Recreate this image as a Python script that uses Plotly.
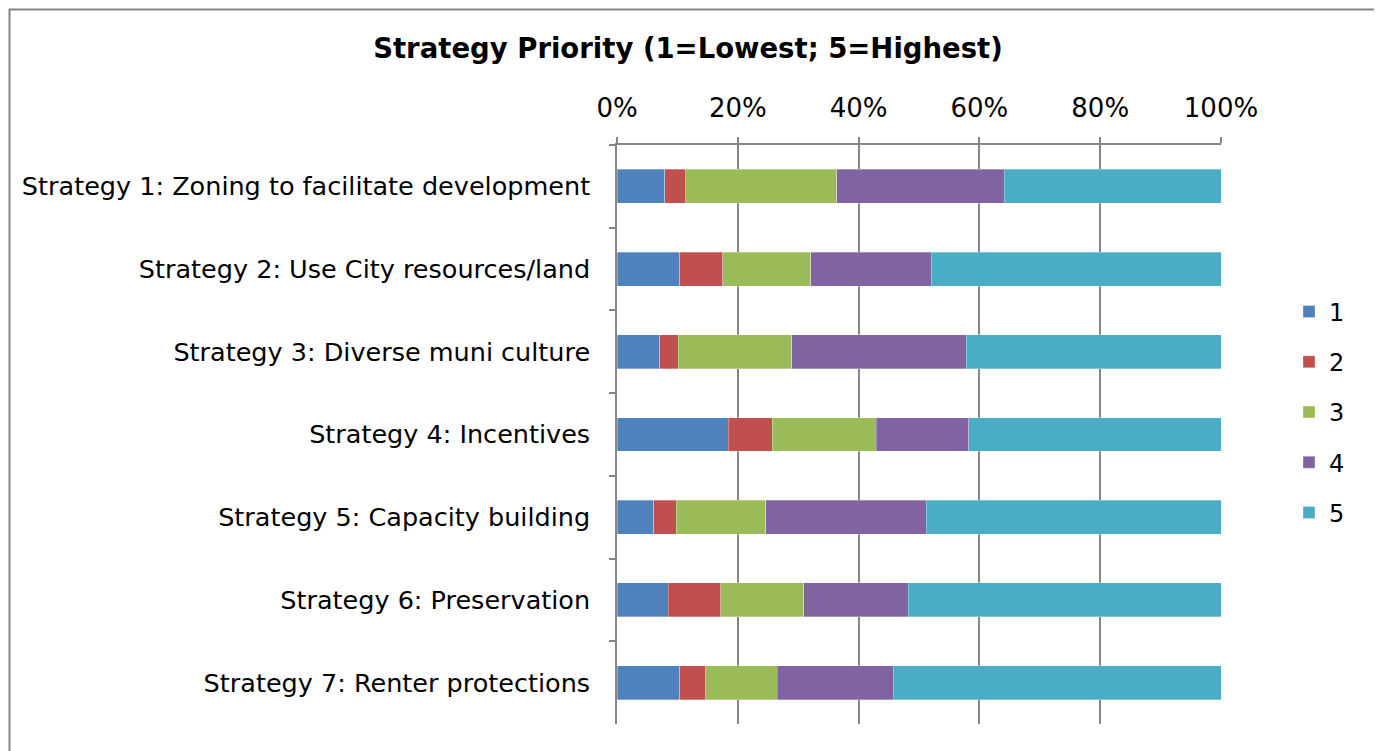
import plotly.graph_objects as go

categories = [
    "Strategy 1: Zoning to facilitate development",
    "Strategy 2: Use City resources/land",
    "Strategy 3: Diverse muni culture",
    "Strategy 4: Incentives",
    "Strategy 5: Capacity building",
    "Strategy 6: Preservation",
    "Strategy 7: Renter protections",
]
series_names = ["1", "2", "3", "4", "5"]
r1 = [7.9, 10.4, 7.1, 18.4, 6.1, 8.5, 10.4]
r2 = [3.5, 7.1, 3.0, 7.3, 3.7, 8.7, 4.3]
r3 = [25.0, 14.6, 18.8, 17.2, 14.8, 13.7, 11.8]
r4 = [27.7, 19.9, 28.9, 15.3, 26.6, 17.3, 19.2]
r5 = [35.9, 48.0, 42.2, 41.8, 48.8, 51.8, 54.3]
colors = ["#4F81BD", "#C0504D", "#9BBB59", "#8064A2", "#4BACC6"]
tick_vals = [0, 20, 40, 60, 80, 100]
tick_text = ["0%", "20%", "40%", "60%", "80%", "100%"]

FONT = "DejaVu Sans"
fig = go.Figure()
for name, vals, col in zip(series_names, [r1, r2, r3, r4, r5], colors):
    fig.add_trace(go.Bar(
        y=categories, x=vals, name=name, orientation="h",
        marker=dict(color=col, line=dict(color="rgba(255,255,255,0.6)", width=0.5)),
        legendgroup=name,
    ))

# page has an 8px body margin, so figure coords = screen coords - 8
OFF = 8
W, H = 1382, 751
L = 617 - OFF
T = 145 - OFF
R = W - (1221 - OFF)
B = H - (724 - OFF)
pw = W - L - R
ph = H - T - B
bottom_px = 724 - OFF

fig.update_layout(
    width=W, height=H,
    barmode="stack", bargap=0.59,
    plot_bgcolor="white", paper_bgcolor="white",
    margin=dict(l=L, r=R, t=T, b=B, autoexpand=False),
    font=dict(family=FONT, size=25.5, color="black"),
    title=dict(text="<b>Strategy Priority (1=Lowest; 5=Highest)</b>",
               x=(688 - OFF) / W, xref="container", xanchor="center",
               y=1 - (48 - OFF) / H, yref="container", yanchor="middle",
               font=dict(family=FONT, size=27.5, color="black")),
    xaxis=dict(side="top", range=[0, 100], tickvals=tick_vals, ticktext=tick_text,
               showgrid=True, gridcolor="#868686", gridwidth=1.5,
               showline=True, linecolor="#868686", linewidth=1.5,
               ticks="outside", ticklen=6, tickcolor="#868686", tickwidth=1.5,
               ticklabelstandoff=10,
               zeroline=False, tickfont=dict(size=26), fixedrange=True),
    yaxis=dict(autorange="reversed", showgrid=False, showline=True,
               linecolor="#868686", linewidth=1.5, ticks="outside",
               tickson="boundaries", ticklen=6, tickcolor="#868686", tickwidth=1.5,
               ticklabelstandoff=20, fixedrange=True),
    legend=dict(x=(1289 - OFF - L) / pw, xanchor="left",
                y=(bottom_px - (412 - OFF)) / ph, yanchor="middle",
                traceorder="grouped", tracegroupgap=16,
                font=dict(size=24), bgcolor="rgba(0,0,0,0)"),
    showlegend=True,
)

# outer chart frame (kept inside the figure so it is not clipped)
fig.add_shape(type="rect", xref="paper", yref="paper",
              x0=(1.5 - L) / pw, x1=(1377 - OFF - L) / pw,
              y0=(bottom_px - (H + 20)) / ph, y1=(bottom_px - 1.5) / ph,
              line=dict(color="#868686", width=2), fillcolor="rgba(0,0,0,0)")

fig.write_html("out.html")
